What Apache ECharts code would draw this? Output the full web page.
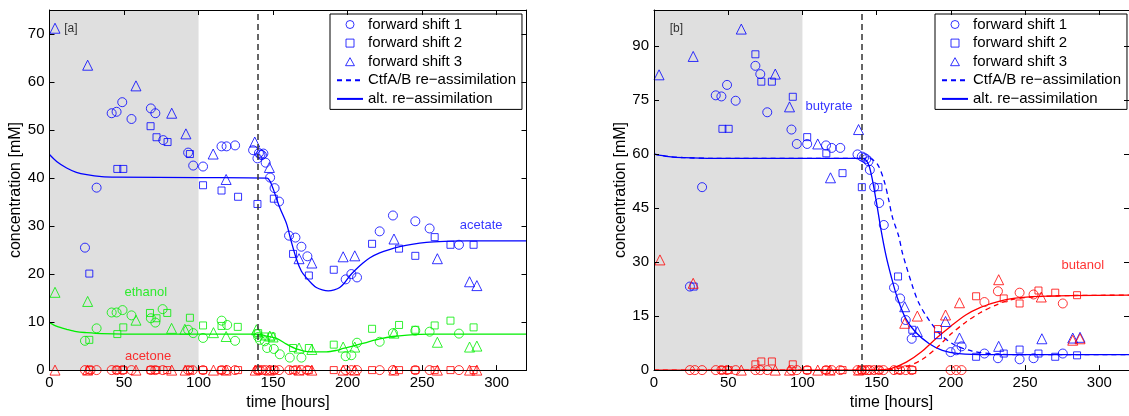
<!DOCTYPE html>
<html>
<head>
<meta charset="utf-8">
<script src="https://cdn.jsdelivr.net/npm/echarts@6/dist/echarts.min.js"></script>
<style>
  html, body { margin: 0; padding: 0; background: #fff; }
  #main { width: 1129px; height: 416px; }
</style>
</head>
<body>
<div id="main"></div>
<script>
// ---- panel [a] : acetate / ethanol / acetone, [time, mM]
var acetate1 = [[23.8,25.5],[31.6,38],[41.7,53.5],[45,53.8],[48.8,55.8],[55,52.3],[68,54.5],[71,53.5],[76.3,47.9],[93,45.3],[96.4,42.6],[103,42.4],[115.4,46.6],[118.8,46.6],[124.5,46.8],[136.6,45.8],[139.5,44.1],[140.5,45.2],[141.5,44.9],[142.5,44.8],[143.5,45.1],[145,43.2],[148,40.1],[151,37.9],[154,35.1],[160.7,28],[165,27.6],[169,25.7],[173,23.7],[198.7,18.9],[202.5,20],[206.3,19.3],[221.5,28.9],[230.4,32.2],[245.4,31],[255,29.5],[274.7,26.1]];
var acetate2 = [[26.7,20.1],[45.5,41.9],[49.5,41.9],[67.8,50.8],[71.8,48.5],[79.2,47.5],[94.2,45],[103,38.5],[115.4,37.4],[126.5,36.1],[139.5,34.6],[150.5,35.7],[163.4,24.2],[174,19.7],[190.7,20.9],[216.4,26.3],[234.5,25.3],[245.4,23.8],[258.4,27.7],[269,26.1],[284.5,26.1]];
var acetate3 = [[3.7,71.2],[25.6,63.5],[58,59.2],[82,53.5],[91.5,49.2],[109.8,45],[118.5,39.7],[137.7,47.5],[147.5,42.2],[167.4,23.2],[176,22.3],[197,23.6],[204.8,23.8],[231.1,27.3],[260.2,23.2],[281.8,18.4],[286.7,17.6]];
var ethanol1 = [[23.8,6.1],[31.6,8.7],[41.7,12],[45,12],[49,12.5],[55,11.4],[68,10.8],[71,9.9],[75.9,12.7],[93,8.4],[96.4,7.7],[103,6.7],[115.5,10.3],[119.2,9.4],[124.5,6.1],[139.5,7.5],[140,6.9],[141.1,6.3],[144.4,6],[146,4.6],[150.5,4.4],[154.5,3.3],[161.2,2.6],[169,2.6],[198.7,2.9],[202.5,3.1],[206.3,5.7],[221.5,5.9],[230.4,7.7],[245.4,8.2],[255,8],[274.7,7.6]];
var ethanol2 = [[26.7,6.3],[45.5,7.5],[49.5,8.9],[67.4,11.9],[71.8,10.8],[79,11.9],[94.2,10.9],[103,9.3],[115.4,9.2],[126.3,9],[140,7.7],[144.4,7],[149,7],[163.4,4.6],[174,4.6],[190.7,5.3],[216.4,8.6],[234.5,9.4],[245.4,8.4],[258.4,9.3],[269,10.3],[284.5,8.9]];
var ethanol3 = [[3.7,16.2],[25.6,14.3],[58,10.4],[81.9,8.7],[90.8,8.5],[110,7.8],[118.5,7],[138.8,8.4],[147.8,7.1],[150,6.9],[167.4,4.6],[176,4.3],[197,4.8],[204.8,4.8],[231.1,7.7],[260.2,5.8],[281.8,4.8],[286.7,5]];
var acetone1 = [[23.8,0],[27.5,0],[31.6,0],[41.7,0],[45,0],[49,0],[55,0],[68,0],[71,0],[76,0],[93,0],[96,0],[103,0],[115.5,0],[119,0],[124.5,0],[139.5,0],[141,0],[143,0],[145,0],[148,0],[151,0],[154,0],[161,0],[165,0],[169,0],[173,0],[198.7,0],[202.5,0],[206.3,0],[221.5,0],[230.4,0],[245.4,0],[255,0],[274.7,0]];
var acetone2 = [[26.7,0],[45.5,0],[49.5,0],[67.8,0],[71.8,0],[79,0],[94.2,0],[103,0],[115.4,0],[126.5,0],[140,0],[150.5,0],[163.4,0],[174,0],[190.7,0],[216.4,0],[234.5,0],[245.4,0],[258.4,0],[269,0],[284.5,0]];
var acetone3 = [[3.7,0],[25.6,0],[58,0],[82,0],[91,0],[110,0],[118.5,0],[138,0],[147.5,0],[167.4,0],[176,0],[197,0],[204.8,0],[231,0],[260.2,0],[281.8,0],[286.7,0]];
var acetateFit = [[0,44.9],[5,43.4],[11.5,42.1],[18,41.2],[25,40.7],[35,40.3],[45,40.2],[100,40.1],[146,40],[148,39.3],[150,37.8],[152,36],[154.5,33.8],[159,30.5],[162,27],[165.7,23.1],[169,20.6],[172.4,19.2],[176,18],[179,17.2],[183,16.7],[187,16.5],[191,16.7],[194.7,17.2],[198,18.2],[201.4,19.6],[205,20.8],[210.3,22.3],[215,23.4],[221.5,24.4],[228,25.1],[235,25.7],[243,26.2],[252.8,26.6],[265,26.8],[280,26.9],[320,26.9]];
var ethanolFit = [[0,9.9],[5,9.1],[11.5,8.5],[18,8],[25,7.8],[35,7.6],[50,7.5],[140,7.5],[145.6,7.1],[152.3,6.6],[159,5.4],[165.7,4.4],[174.6,3.8],[185.8,3.8],[192.5,4.1],[197,4.5],[205.9,5.2],[214,5.9],[221.5,6.5],[230,7],[240,7.3],[255,7.5],[320,7.5]];

// ---- panel [b] : butyrate / butanol
var butyrate1 = [[24.2,23.2],[32.4,50.8],[41.6,76.3],[45.4,76],[49.2,79.2],[55,74.8],[68.3,84.5],[71.6,82.2],[76.3,71.6],[92.6,66.8],[96.2,62.8],[103.2,62.8],[115.9,62.4],[119.7,61.7],[125.5,61.7],[137.1,59.9],[140,59.3],[141.5,59],[143,58.6],[144.5,58],[145.4,55.6],[148.3,50.8],[151.7,46.4],[154.8,40.3],[161.7,22.9],[165.8,19.9],[169.6,13.9],[173.6,8.7],[199.8,5],[203.6,5.5],[207.2,6.6],[222.6,4.6],[231.7,3.3],[246.3,3],[255.7,3.3],[275.4,4.6]];
var butyrate2 = [[26.7,23.2],[46.1,67],[50.3,67],[68.3,87.7],[72.3,80.1],[79.4,80.1],[93.5,75.9],[103.2,64.7],[116.1,60.2],[127,54.7],[140,50.8],[151.2,50.8],[164.4,26],[174,11.2],[191.3,9.7],[217,3.7],[235.6,4.6],[246.3,5.7],[259,4.6],[270.3,3.7],[285,4.1]];
var butyrate3 = [[3.4,82],[26.4,87.1],[58.8,94.7],[81.7,82.2],[91.3,73.1],[110.3,62.8],[118.9,53.4],[137.8,66.8],[168.9,17.6],[177.4,10.7],[196.4,13.5],[205.8,8.9],[232.2,6.6],[261.3,8.7],[282.1,8.9],[287,9.1]];
var butanol1 = [[24.2,0],[27.5,0],[32.4,0],[41.6,0],[45.4,0],[49.2,0],[55,0],[68.3,0],[71.6,0],[76.3,0],[92.6,0],[96.2,0],[103.2,0],[115.9,0],[119.7,0],[125.5,0],[137.1,0],[140,0],[142,0],[144,0],[145.4,0],[148.3,0],[151.7,0],[154.6,0],[161.7,0],[165.8,0],[169.6,0],[173.6,0],[199.8,0],[203.6,0],[207.2,0],[222.6,18.9],[231.7,21.9],[246.3,21.5],[255.7,21],[275.4,18.5]];
var butanol2 = [[46.1,0],[50.3,0],[68.3,1.6],[72.3,2.4],[79.4,2.4],[93.5,1.6],[103.2,0],[116.1,0],[127,0],[140,0],[151.2,0],[164.4,0],[174,0],[191.3,11.4],[217,20.5],[235.6,19.9],[246.3,18.5],[259,22.1],[270.3,21.5],[285,20.8]];
var butanol3 = [[4,30.6],[26.4,24.1],[58.8,0],[81.7,0],[91.3,0],[110.3,0],[118.6,0],[137.8,0],[168.9,13],[177.4,15],[196.4,15.3],[205.8,18.7],[232.2,25.1],[260.9,20.3],[282.1,8.3],[287,8.7]];
var butyrateFit = [[0,60],[10,59.3],[20,59],[40,58.8],[140,58.8],[143,58.2],[145,56.6],[147.2,52.7],[149.9,46.5],[152.8,39.3],[156.2,32],[159.8,26],[164,20],[169.6,14.3],[176.3,10.5],[185.2,7.4],[194.2,5.5],[205.4,4.6],[225,4.3],[320,4.3]];
var butyrateFitCtf = [[0,60],[10,59.3],[20,59],[40,58.8],[145,58.8],[150.5,57.2],[155,52.6],[158,47.5],[160.6,42.5],[165,37],[167.3,32.6],[174,23.5],[178,19],[183,15.3],[192,10.3],[202,7.1],[214.3,5.3],[232,4.4],[250,4.3],[320,4.3]];
var butanolFit = [[0,0],[150,0],[160,0.5],[170,2.2],[180,5],[190,8.8],[200,12.2],[210,15.3],[220,17.4],[230,18.8],[240,19.8],[255,20.4],[280,20.7],[320,20.8]];
var butanolFitCtf = [[0,0],[155,0],[170,1],[180,2.8],[190,6],[200,10],[210,13.3],[220,16],[230,18],[240,19.5],[255,20.3],[280,20.7],[320,20.8]];

var shadeEnd = 100;   // grey phase
var shiftTime = 140;  // dashed line
var legendNames = ['forward shift 1', 'forward shift 2', 'forward shift 3', 'CtfA/B re\u2212assimilation', 'alt. re\u2212assimilation'];

var FONT = 'Liberation Sans, Arial, Helvetica, sans-serif';
var BLUE = '#0000ff', GREEN = '#00ee00', RED = '#ff0000';
var SQUARE = 'path://M0,0L10,0L10,10L0,10Z';
var TRIANGLE = 'path://M5,0L10,9L0,9Z';

var dom = document.getElementById('main');
var myChart = echarts.init(dom, null, {renderer: 'canvas'});

function pts(name, data, symbol, size, color, gi) {
    return {
        name: name, type: 'scatter', data: data,
        xAxisIndex: gi * 2, yAxisIndex: gi * 2,
        symbol: symbol, symbolSize: size, z: 3,
        itemStyle: {color: 'rgba(0,0,0,0)', borderColor: color, borderWidth: 1},
        emphasis: {disabled: true}
    };
}
function curve(name, data, color, dashed, gi) {
    return {
        name: name, type: 'line', data: data,
        xAxisIndex: gi * 2, yAxisIndex: gi * 2,
        symbol: 'none', smooth: 0.3, z: 2,
        itemStyle: {color: color},
        lineStyle: {color: color, width: 1.3, type: dashed ? [5, 4] : 'solid'},
        emphasis: {disabled: true}
    };
}
function tag(text, x, y, color, size, gi) {
    return {
        type: 'scatter', data: [[x, y]], xAxisIndex: gi * 2, yAxisIndex: gi * 2,
        symbolSize: 1, z: 6, itemStyle: {color: 'rgba(0,0,0,0)'},
        label: {show: true, position: 'inside', formatter: text, color: color,
                 fontSize: size, fontFamily: FONT},
        emphasis: {disabled: true}, silent: true
    };
}
function phase(gi) {
    // carries the grey band and the dashed marker line of a panel
    return {
        type: 'line', data: [], xAxisIndex: gi * 2, yAxisIndex: gi * 2, symbol: 'none',
        markArea: {silent: true, itemStyle: {color: '#dfdfdf'},
                   data: [[{xAxis: 0}, {xAxis: shadeEnd}]]},
        markLine: {silent: true, symbol: 'none', label: {show: false},
                   lineStyle: {color: '#333', width: 1.5, type: [6, 4]},
                   data: [{xAxis: shiftTime}]}
    };
}

var axisCommon = {
    z: 10,
    axisLine: {show: true, onZero: false, lineStyle: {color: '#000', width: 1}},
    axisTick: {show: true, inside: true, length: 5, lineStyle: {color: '#000'}},
    splitLine: {show: false},
    axisLabel: {color: '#000', fontSize: 15, fontFamily: FONT, showMaxLabel: false}
};
function xAx(gi, top) {
    return Object.assign({}, axisCommon, {
        type: 'value', gridIndex: gi, min: 0, max: 320, interval: 50,
        position: top ? 'top' : 'bottom',
        axisLabel: top ? {show: false} : Object.assign({margin: 5}, axisCommon.axisLabel),
        name: top ? '' : 'time [hours]', nameLocation: 'middle', nameGap: 19,
        nameTextStyle: {color: '#000', fontSize: 16, fontFamily: FONT}
    });
}
function yAx(gi, right, max, step) {
    return Object.assign({}, axisCommon, {
        type: 'value', gridIndex: gi, min: 0, max: max, interval: step,
        position: right ? 'right' : 'left',
        axisLabel: right ? {show: false} : Object.assign({margin: 5}, axisCommon.axisLabel),
        name: right ? '' : 'concentration [mM]', nameLocation: 'middle', nameGap: 25,
        nameTextStyle: {color: '#000', fontSize: 16, fontFamily: FONT}
    });
}
function legendBox(left) {
    var icons = ['circle', SQUARE, TRIANGLE];
    var items = legendNames.map(function (n, i) {
        // the two curve entries show only their line, no symbol
        return i < 3 ? {name: n, icon: icons[i]} : {name: n, itemStyle: {opacity: 0}};
    });
    return {
        data: items, left: left, top: 14, orient: 'vertical',
        selectedMode: false, padding: [3, 6, 3, 6], itemGap: 3.6,
        itemWidth: 26, itemHeight: 8, symbolKeepAspect: true,
        borderColor: '#000', borderWidth: 1, backgroundColor: '#fff',
        itemStyle: {borderWidth: 1},
        textStyle: {color: '#000', fontSize: 15, fontFamily: FONT}
    };
}

var option = {
    animation: false,
    backgroundColor: '#fff',
    grid: [
        {left: 49.5, top: 10, width: 477, height: 366},
        {left: 654, top: 10, width: 477, height: 366}
    ],
    xAxis: [xAx(0, false), xAx(0, true), xAx(1, false), xAx(1, true)],
    yAxis: [yAx(0, false, 75, 10), yAx(0, true, 75, 10), yAx(1, false, 100, 15), yAx(1, true, 100, 15)],
    legend: [legendBox(330), legendBox(935)],
    series: [
        phase(0), phase(1),
        // panel [a]
        pts('forward shift 1', acetate1, 'circle', 9, BLUE, 0),
        pts('forward shift 2', acetate2, 'rect', 7, BLUE, 0),
        pts('forward shift 3', acetate3, 'triangle', 10, BLUE, 0),
        pts('ethanol 1', ethanol1, 'circle', 9, GREEN, 0),
        pts('ethanol 2', ethanol2, 'rect', 7, GREEN, 0),
        pts('ethanol 3', ethanol3, 'triangle', 10, GREEN, 0),
        pts('acetone 1', acetone1, 'circle', 9, RED, 0),
        pts('acetone 2', acetone2, 'rect', 7, RED, 0),
        pts('acetone 3', acetone3, 'triangle', 10, RED, 0),
        curve('alt. re\u2212assimilation', acetateFit, BLUE, false, 0),
        curve('ethanol fit', ethanolFit, GREEN, false, 0),
        // panel [b]
        pts('forward shift 1', butyrate1, 'circle', 9, BLUE, 1),
        pts('forward shift 2', butyrate2, 'rect', 7, BLUE, 1),
        pts('forward shift 3', butyrate3, 'triangle', 10, BLUE, 1),
        pts('butanol 1', butanol1, 'circle', 9, RED, 1),
        pts('butanol 2', butanol2, 'rect', 7, RED, 1),
        pts('butanol 3', butanol3, 'triangle', 10, RED, 1),
        curve('CtfA/B re\u2212assimilation', butyrateFitCtf, BLUE, true, 1),
        curve('alt. re\u2212assimilation', butyrateFit, BLUE, false, 1),
        curve('butanol ctf', butanolFitCtf, RED, true, 1),
        curve('butanol alt', butanolFit, RED, false, 1),
        // text in the panels
        tag('[a]', 14.3, 71.1, '#000', 12, 0),
        tag('acetate', 289.6, 30.1, BLUE, 13, 0),
        tag('ethanol', 64.6, 16.2, GREEN, 13, 0),
        tag('acetone', 66.1, 2.9, RED, 13, 0),
        tag('[b]', 15.1, 94.8, '#000', 12, 1),
        tag('butyrate', 117.9, 73.2, BLUE, 13, 1),
        tag('butanol', 288.9, 29, RED, 13, 1)
    ]
};

if (option && typeof option === 'object') {
    myChart.setOption(option, true);
}
</script>
</body>
</html>
